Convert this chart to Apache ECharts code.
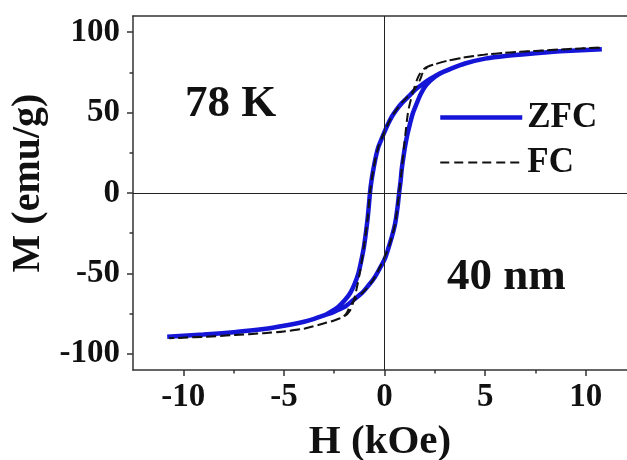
<!DOCTYPE html>
<html>
<head>
<meta charset="utf-8">
<script src="https://cdn.jsdelivr.net/npm/echarts@6/dist/echarts.min.js"></script>
<style>html,body{margin:0;padding:0;background:#fff;}#c{width:627px;height:460px;}</style>
</head>
<body>
<div id="c"></div>
<script>
// ZFC loop: descending branch (+H -> -H) followed by ascending branch (-H -> +H)
const zfcH = [10.8, 9, 7.5, 6, 5, 4, 3.4, 2.84, 2.5, 2.17, 1.85, 1.51, 1.2, 0.85, 0.6, 0.36, 0.18, 0, -0.15, -0.31, -0.45, -0.56, -0.65, -0.72, -0.78, -0.85, -0.95, -1.05, -1.18, -1.3, -1.5, -1.71, -2.0, -2.29, -2.62, -2.95, -3.5, -4, -5, -6, -7.5, -9, -10.8,
  -9, -7.5, -6, -5, -4, -3.5, -2.95, -2.62, -2.29, -1.96, -1.55, -1.13, -0.8, -0.47, -0.2, 0.03, 0.2, 0.38, 0.53, 0.65, 0.73, 0.8, 0.85, 0.93, 1.02, 1.13, 1.27, 1.42, 1.6, 1.8, 2.01, 2.25, 2.5, 2.84, 3.4, 4, 5, 6, 7.5, 9, 10.8];
const zfcM = [89.4, 88.2, 86.8, 85.2, 83.5, 80.5, 77.8, 74.8, 72.5, 70.2, 67.3, 64, 60, 55.7, 51.8, 47.4, 43, 38, 33.5, 28.5, 21.5, 14.3, 7.5, 0.5, -8, -17, -27, -35.4, -43.5, -50, -57, -62.3, -67, -70.6, -73.5, -75.8, -78.2, -80, -82.5, -84.5, -86.5, -88, -89.3,
  -88, -86.5, -84.5, -82.5, -80, -78.2, -75.8, -74.5, -72.6, -70.6, -66.5, -62.3, -57.5, -52, -46, -40.5, -34, -26.5, -18.8, -8.5, 0.5, 7.5, 14.3, 21.5, 28.8, 36, 43.3, 50, 55.7, 61.5, 66, 69.5, 72.2, 74.8, 77.8, 80.5, 83.5, 85.2, 86.8, 88.2, 89.4];
// FC loop
const fcH = [10.7, 9, 7.5, 6, 5, 4, 3, 2.5, 2.2, 1.95, 1.75, 1.5, 1.2, 0.85, 0.36, 0, -0.31, -0.56, -0.72, -0.85, -1.0, -1.22, -1.45, -1.65, -1.85, -2.1, -2.5, -2.95, -4, -5, -6, -7.5, -9, -10.7,
  -9, -7.5, -6, -5, -4, -2.95, -2.5, -2.1, -1.9, -1.7, -1.45, -1.13, -0.8, -0.47, 0, 0.2, 0.38, 0.53, 0.73, 0.85, 0.98, 1.18, 1.4, 1.6, 1.8, 2.0, 2.2, 2.5, 3, 4, 5, 6, 7.5, 9, 10.7];
const fcM = [90.3, 89.4, 88.3, 87.1, 86, 84.3, 81.8, 80, 78.8, 76, 70, 64.5, 60.5, 56, 47.5, 38, 28.5, 14.3, 0.5, -17, -31, -49, -63, -71.5, -75.2, -77.2, -79.2, -80.8, -84.3, -86, -87.1, -88.3, -89.4, -90.3,
  -89.4, -88.3, -87.1, -86, -84.3, -80.8, -79.2, -77.2, -75, -70, -66, -62.3, -58, -52, -40, -34, -26.5, -18.8, 0.5, 14.3, 30, 51, 62, 70, 75, 77.5, 78.8, 80, 81.8, 84.3, 86, 87.1, 88.3, 89.4, 90.3];

const xMajorTicks = [-10, -5, 0, 5, 10];
const xMinorTicks = [-7.5, -2.5, 2.5, 7.5];
const yMajorTicks = [-100, -50, 0, 50, 100];
const yMinorTicks = [-75, -25, 25, 75];

const seriesNames = ['ZFC', 'FC'];
const xTitle = 'H (kOe)';
const yTitle = 'M (emu/g)';
const tempLabel = '78 K';
const sizeLabel = '40 nm';

const pairs = (xs, ys) => xs.map((x, i) => [x, ys[i]]);

const FONT = '"Liberation Serif", "Times New Roman", serif';
const AX = '#333';
const xRange = { min: -12.5, max: 12.05 };
const yRange = { min: -110, max: 110 };

const chart = echarts.init(document.getElementById('c'), null, { renderer: 'canvas' });
chart.setOption({
  backgroundColor: '#fff',
  animation: false,
  grid: { left: 133, right: 0, top: 16, bottom: 90, containLabel: false, outerBoundsMode: 'none' },
  xAxis: [
    {
      type: 'value', position: 'bottom', ...xRange,
      axisLine: { show: true, onZero: false, lineStyle: { color: AX, width: 1.5 } },
      axisTick: { show: true, inside: false, length: 6, customValues: xMajorTicks, lineStyle: { color: AX, width: 1.5 } },
      axisLabel: { show: true, customValues: xMajorTicks, margin: 11, fontFamily: FONT, fontWeight: 'bold', fontSize: 33, color: '#111' },
      splitLine: { show: false },
      name: xTitle, nameLocation: 'middle', nameGap: 52,
      nameTextStyle: { fontFamily: FONT, fontWeight: 'bold', fontSize: 41, color: '#111' }
    },
    {
      type: 'value', position: 'bottom', ...xRange,
      axisLine: { show: false, onZero: false },
      axisTick: { show: true, inside: false, length: 3.5, customValues: xMinorTicks, lineStyle: { color: AX, width: 1.5 } },
      axisLabel: { show: false }, splitLine: { show: false }
    },
    {
      type: 'value', position: 'top', ...xRange,
      axisLine: { show: true, onZero: false, lineStyle: { color: AX, width: 1.5 } },
      axisTick: { show: false }, axisLabel: { show: false }, splitLine: { show: false }
    }
  ],
  yAxis: [
    {
      type: 'value', position: 'left', ...yRange,
      axisLine: { show: true, onZero: false, lineStyle: { color: AX, width: 1.5 } },
      axisTick: { show: true, inside: false, length: 6, customValues: yMajorTicks, lineStyle: { color: AX, width: 1.5 } },
      axisLabel: { show: true, customValues: yMajorTicks, margin: 13, fontFamily: FONT, fontWeight: 'bold', fontSize: 33, color: '#111' },
      splitLine: { show: false },
      name: yTitle, nameLocation: 'middle', nameGap: 84, nameRotate: 90,
      nameTextStyle: { fontFamily: FONT, fontWeight: 'bold', fontSize: 40, color: '#111', padding: [0, 0, 0, 20] }
    },
    {
      type: 'value', position: 'left', ...yRange,
      axisLine: { show: false, onZero: false },
      axisTick: { show: true, inside: false, length: 3.5, customValues: yMinorTicks, lineStyle: { color: AX, width: 1.5 } },
      axisLabel: { show: false }, splitLine: { show: false }
    }
  ],
  legend: {
    data: seriesNames, orient: 'vertical', left: 433, top: 95,
    itemWidth: 82, itemHeight: 14, itemGap: 10,
    itemStyle: { opacity: 0 },
    lineStyle: { width: 'inherit' },
    textStyle: { fontFamily: FONT, fontWeight: 'bold', fontSize: 35, color: '#111', lineHeight: 35 }
  },
  graphic: [
    { type: 'text', left: 185, top: 82, silent: true,
      style: { text: tempLabel, fontFamily: FONT, fontWeight: 'bold', fontSize: 45, fill: '#111' } },
    { type: 'text', left: 447, top: 255, silent: true,
      style: { text: sizeLabel, fontFamily: FONT, fontWeight: 'bold', fontSize: 45, fill: '#111' } }
  ],
  series: [
    {
      name: 'zero', type: 'line', data: [], z: 1, silent: true,
      markLine: {
        silent: true, symbol: 'none', label: { show: false },
        lineStyle: { color: '#222', width: 1, type: 'solid' },
        data: [{ xAxis: 0 }, { yAxis: 0 }]
      }
    },
    {
      name: seriesNames[0], type: 'line', data: pairs(zfcH, zfcM), z: 2,
      showSymbol: false, symbol: 'none', smooth: 0.3,
      lineStyle: { color: '#1515d8', width: 4.5 }, itemStyle: { color: '#1515d8' }
    },
    {
      name: seriesNames[1], type: 'line', data: pairs(fcH, fcM), z: 3,
      showSymbol: false, symbol: 'none', smooth: 0.3,
      lineStyle: { color: '#111', width: 2, type: [9, 5] }, itemStyle: { color: '#111' }
    }
  ]
});
</script>
</body>
</html>
